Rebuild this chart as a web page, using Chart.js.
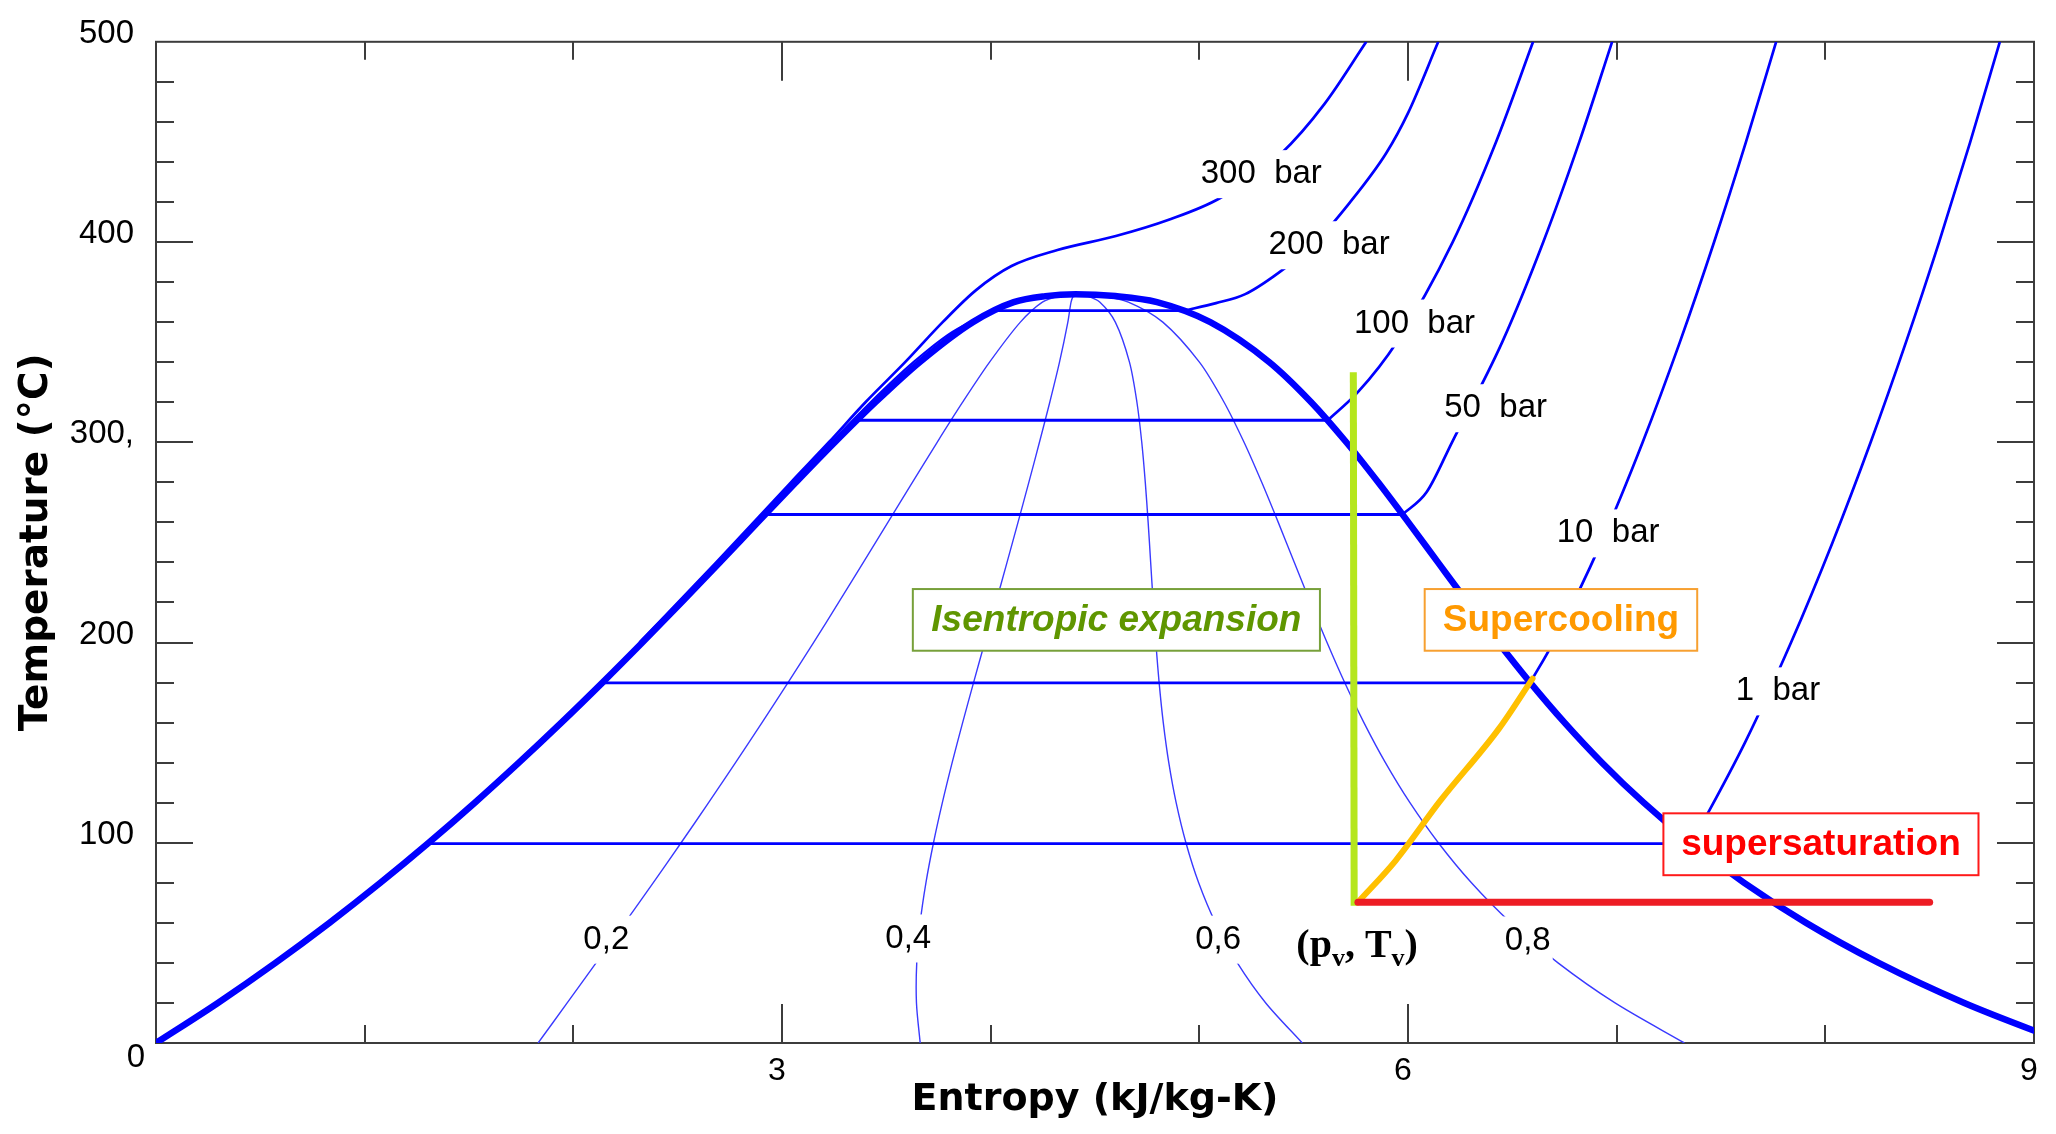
<!DOCTYPE html>
<html>
<head>
<meta charset="utf-8">
<title>T-s diagram of water</title>
<script src="https://cdn.jsdelivr.net/npm/chart.js@4.4.1/dist/chart.umd.min.js"></script>
<style>
  html, body { margin: 0; padding: 0; background: #fff; }
</style>
</head>
<body>
<canvas id="tsChart" width="2056" height="1134"></canvas>
<script>
// --- saturation dome (T in degC, s in kJ/kg-K) ---
const satT  = [0.01, 20, 40, 60, 80, 100, 120, 140, 160, 180, 200, 220, 240, 260, 280, 300, 320, 340, 360, 370, 373, 373.95];
const satSf = [0, 0.2966, 0.5725, 0.8312, 1.0753, 1.3069, 1.5278, 1.7391, 1.9427, 2.1396, 2.3309, 2.5178, 2.7015, 2.8838, 3.0668, 3.2534, 3.4480, 3.6594, 3.9147, 4.1106, 4.262, 4.4070];
const satSg = [9.1555, 8.6660, 8.2555, 7.9080, 7.6112, 7.3549, 7.1296, 6.9299, 6.7502, 6.5857, 6.4323, 6.2861, 6.1437, 6.0019, 5.8571, 5.7045, 5.5362, 5.3357, 5.0526, 4.7971, 4.598, 4.4070];

// --- quality lines, same temperatures as satT ---
const q02 = [1.8311, 1.9705, 2.1091, 2.2466, 2.3825, 2.5165, 2.6482, 2.7773, 2.9042, 3.0288, 3.1512, 3.2715, 3.3899, 3.5074, 3.6249, 3.7436, 3.8656, 3.9947, 4.1423, 4.2479, 4.329, 4.4070];
const q04 = [3.6622, 3.6444, 3.6457, 3.6619, 3.6897, 3.7261, 3.7685, 3.8154, 3.8657, 3.9180, 3.9715, 4.0251, 4.0784, 4.1310, 4.1829, 4.2338, 4.2833, 4.3299, 4.3699, 4.3852, 4.396, 4.4070];
const q06 = [5.4933, 5.3182, 5.1823, 5.0773, 4.9968, 4.9357, 4.8889, 4.8536, 4.8272, 4.8073, 4.7917, 4.7788, 4.7668, 4.7547, 4.7410, 4.7241, 4.7009, 4.6652, 4.5974, 4.5225, 4.464, 4.4070];
const q08 = [7.3244, 6.9921, 6.7189, 6.4926, 6.3040, 6.1453, 6.0092, 5.8917, 5.7887, 5.6965, 5.6120, 5.5324, 5.4553, 5.3783, 5.2990, 5.2143, 5.1186, 5.0004, 4.8250, 4.6598, 4.531, 4.4070];

// --- two-phase isobars: 1, 10, 50, 100, 200 bar ---
const plateauT  = [99.61, 179.88, 263.94, 311.0, 365.75];
const plateauSf = [1.3028, 2.1381, 2.9210, 3.3603, 4.0146];
const plateauSg = [7.3589, 6.5850, 5.9737, 5.6159, 4.9269];

// --- isobars outside the dome, [s, T] ---
const isobar1   = [[7.3589, 99.61], [7.6148, 150], [7.8356, 200], [8.0346, 250], [8.2172, 300], [8.3866, 350], [8.5452, 400], [8.6946, 450], [8.8362, 500]];
const isobar10  = [[6.5850, 179.88], [6.6956, 200], [6.9265, 250], [7.1246, 300], [7.3029, 350], [7.4670, 400], [7.6198, 450], [7.7642, 500]];
const isobar50  = [[5.9737, 263.94], [6.0886, 275], [6.2109, 300], [6.4515, 350], [6.6483, 400], [6.8210, 450], [6.9781, 500]];
const isobar100 = [[2.3251, 200], [2.6952, 240], [3.0600, 280], [3.2471, 300], [3.3603, 311.0]];
const isobar100v = [[5.6159, 311.0], [5.7596, 325], [5.9460, 350], [6.2141, 400], [6.4219, 450], [6.5995, 500]];
const isobar200 = [[2.3223, 200], [2.6899, 240], [3.0532, 280], [3.2371, 300], [3.4250, 320], [3.6300, 340], [3.8150, 355], [4.0146, 365.75]];
const isobar200v = [[4.9269, 365.75], [5.08, 369.5], [5.22, 374], [5.41, 387], [5.5573, 400], [5.72, 419.6], [5.896, 444.5], [6.00, 464.4], [6.145, 500]];
const isobar300 = [[2.3174, 200], [2.6846, 240], [3.0429, 280], [3.2245, 300], [3.40, 320], [3.59, 340], [3.77, 360], [3.93, 376], [4.10, 388], [4.32, 396], [4.60, 403], [4.85, 411], [5.10, 422], [5.39, 444], [5.60, 469], [5.80, 500]];

// --- process lines drawn over the diagram ---
const isentropic   = [[5.738, 335], [5.742, 68.5]];
const supercooling = [[5.76, 70.3], [5.94, 91], [6.155, 121], [6.436, 157], [6.597, 182]];
const supersat     = [[5.76, 70.3], [8.50, 70.3]];

// --- tick labels ---
const xTickLabels = { 3: '3', 6: '6', 9: '9' };
const yTickLabels = { 100: '100', 200: '200', 300: '300,', 400: '400', 500: '500' };

const pts = arr => arr.map(p => ({ x: p[0], y: p[1] }));
const fromCols = (sList, tList) => sList.map((s, i) => ({ x: s, y: tList[i] }));

function line(data, width, color, extra) {
  return Object.assign({
    data: data, showLine: true, borderColor: color, backgroundColor: color,
    borderWidth: width, pointRadius: 0, cubicInterpolationMode: 'monotone', fill: false
  }, extra || {});
}

const BLUE = '#0000ff';
const datasets = [];

// annotation lines first so they end up on top
datasets.push(line(pts(supersat), 7, '#ed1c24', { cubicInterpolationMode: 'default', tension: 0, borderCapStyle: 'round' }));
datasets.push(line(pts(supercooling), 6, '#ffc000', { borderCapStyle: 'round' }));
datasets.push(line(pts(isentropic), 7, '#b5e61d', { cubicInterpolationMode: 'default', tension: 0 }));

// dome
const dome = fromCols(satSf, satT).concat(fromCols(satSg, satT).reverse().slice(1));
datasets.push(line(dome, 6.5, BLUE));

// plateaus
plateauT.forEach((t, i) => {
  datasets.push(line([{ x: plateauSf[i], y: t }, { x: plateauSg[i], y: t }], 2.8, BLUE, { cubicInterpolationMode: 'default', tension: 0 }));
});

// isobars
[isobar1, isobar10, isobar50, isobar100v, isobar200v, isobar300].forEach(a => datasets.push(line(pts(a), 2.7, BLUE)));
[isobar100, isobar200].forEach(a => datasets.push(line(pts(a), 2.2, BLUE)));

// quality lines
[q02, q04, q06, q08].forEach(q => datasets.push(line(fromCols(q, satT), 1.4, '#3a3aff', { cubicInterpolationMode: 'default', tension: 0.3 })));

// label anchors in data coords
const curveLabels = [
  { text: '300  bar', s: 5.297, t: 433.9 },
  { text: '200  bar', s: 5.622, t: 398.4 },
  { text: '100  bar', s: 6.031, t: 359.3 },
  { text: '50  bar', s: 6.420, t: 317.0 },
  { text: '10  bar', s: 6.959, t: 254.5 },
  { text: '1  bar', s: 7.773, t: 175.6 },
  { text: '0,2', s: 2.158, t: 51.6 },
  { text: '0,4', s: 3.605, t: 52.2 },
  { text: '0,6', s: 5.090, t: 51.6 },
  { text: '0,8', s: 6.574, t: 51.2 }
];

const textBoxes = [
  { text: 'Isentropic expansion', s0: 3.627, s1: 5.578, t0: 226.7, t1: 195.9,
    color: '#5f9600', border: '#77a03a', font: 'italic bold 37px "Liberation Sans", Arial, sans-serif' },
  { text: 'Supercooling', s0: 6.080, s1: 7.386, t0: 226.7, t1: 195.9,
    color: '#ff9900', border: '#f7a030', font: 'bold 37px "Liberation Sans", Arial, sans-serif' },
  { text: 'supersaturation', s0: 7.224, s1: 8.734, t0: 114.7, t1: 83.8,
    color: '#ff0000', border: '#ff1a1a', font: 'bold 37px "Liberation Sans", Arial, sans-serif' }
];

const LABEL_FONT = '33px "Liberation Sans", Arial, sans-serif';

const decorations = {
  id: 'decorations',
  beforeDatasetsDraw(chart) {
    const { ctx, chartArea: a, scales: { x, y } } = chart;
    ctx.save();
    ctx.strokeStyle = '#3c3c3c';
    ctx.lineWidth = 2;
    ctx.strokeRect(a.left, a.top, a.right - a.left, a.bottom - a.top);
    ctx.beginPath();
    x.ticks.forEach(t => {
      if (t.value <= x.min || t.value >= x.max) return;
      const px = Math.round(x.getPixelForValue(t.value));
      const len = t.value % 3 === 0 ? 39 : 18;
      ctx.moveTo(px, a.bottom); ctx.lineTo(px, a.bottom - len);
      ctx.moveTo(px, a.top); ctx.lineTo(px, a.top + len);
    });
    y.ticks.forEach(t => {
      if (t.value <= y.min || t.value >= y.max) return;
      const py = Math.round(y.getPixelForValue(t.value));
      const len = t.value % 100 === 0 ? 37 : 18;
      ctx.moveTo(a.left, py); ctx.lineTo(a.left + len, py);
      ctx.moveTo(a.right, py); ctx.lineTo(a.right - len, py);
    });
    ctx.stroke();
    ctx.restore();
  },
  afterDatasetsDraw(chart) {
    const { ctx, scales: { x, y } } = chart;
    ctx.save();

    // curve labels cut a white gap into their line
    ctx.font = LABEL_FONT;
    ctx.textAlign = 'center';
    ctx.textBaseline = 'middle';
    curveLabels.forEach(l => {
      const px = x.getPixelForValue(l.s), py = y.getPixelForValue(l.t);
      const w = ctx.measureText(l.text).width;
      ctx.fillStyle = '#fff';
      ctx.fillRect(px - w / 2 - 2, py - 24, w + 4, 48);
      ctx.fillStyle = '#000';
      ctx.fillText(l.text, px, py);
    });

    // origin label
    ctx.fillText('0', x.getPixelForValue(0) - 20, y.getPixelForValue(0) + 15);

    // framed annotations
    textBoxes.forEach(b => {
      const x0 = x.getPixelForValue(b.s0), x1 = x.getPixelForValue(b.s1);
      const y0 = y.getPixelForValue(b.t0), y1 = y.getPixelForValue(b.t1);
      ctx.fillStyle = '#fff';
      ctx.fillRect(x0, y0, x1 - x0, y1 - y0);
      ctx.strokeStyle = b.border;
      ctx.lineWidth = 2;
      ctx.strokeRect(x0, y0, x1 - x0, y1 - y0);
      ctx.font = b.font;
      ctx.fillStyle = b.color;
      ctx.fillText(b.text, (x0 + x1) / 2, (y0 + y1) / 2 + 1);
    });

    // (p_v, T_v)
    let px = x.getPixelForValue(5.465);
    const base = y.getPixelForValue(42.7);
    const main = 'bold 40px "Liberation Serif", "Times New Roman", serif';
    const sub = 'bold 26px "Liberation Serif", "Times New Roman", serif';
    ctx.textAlign = 'left';
    ctx.textBaseline = 'alphabetic';
    ctx.fillStyle = '#000';
    [['(p', main, 0], ['v', sub, 9], [', T', main, 0], ['v', sub, 9], [')', main, 0]].forEach(([s, f, dy]) => {
      ctx.font = f;
      ctx.fillText(s, px, base + dy);
      px += ctx.measureText(s).width;
    });

    ctx.restore();
  }
};

new Chart(document.getElementById('tsChart').getContext('2d'), {
  type: 'scatter',
  data: { datasets: datasets },
  plugins: [decorations],
  options: {
    responsive: false,
    animation: false,
    events: [],
    layout: { padding: { top: 38, right: 22, left: 0, bottom: 0 } },
    plugins: { legend: { display: false }, tooltip: { enabled: false } },
    scales: {
      x: {
        type: 'linear', min: 0, max: 9,
        grid: { display: false, drawTicks: false },
        border: { display: false },
        ticks: {
          stepSize: 1, autoSkip: false, maxRotation: 0, padding: 9, labelOffset: -5,
          color: '#000', font: { family: '"Liberation Sans", Arial, sans-serif', size: 32 },
          callback: v => xTickLabels[v] || ''
        },
        title: {
          display: true, text: 'Entropy (kJ/kg-K)', color: '#000',
          font: { family: '"DejaVu Sans", sans-serif', size: 38, weight: 'bold' },
          padding: { top: 0, bottom: 11 }
        },
        afterFit: s => { s.height = 91; }
      },
      y: {
        type: 'linear', min: 0, max: 500,
        grid: { display: false, drawTicks: false },
        border: { display: false },
        ticks: {
          stepSize: 20, autoSkip: false, padding: 22, labelOffset: -8,
          color: '#000', font: { family: '"Liberation Sans", Arial, sans-serif', size: 33 },
          callback: v => yTickLabels[v] || ''
        },
        title: {
          display: true, text: 'Temperature (°C)', color: '#000',
          font: { family: '"DejaVu Sans", sans-serif', size: 39, weight: 'bold' },
          padding: { top: 13, bottom: 0 }
        },
        afterFit: s => { s.width = 156; }
      }
    }
  }
});
</script>
</body>
</html>
